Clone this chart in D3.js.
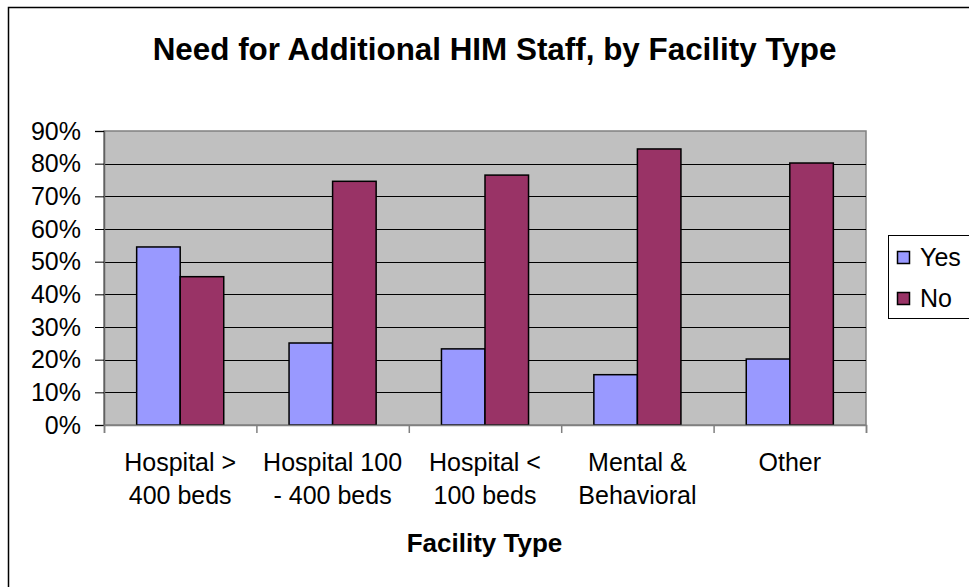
<!DOCTYPE html>
<html>
<head>
<meta charset="utf-8">
<script src="https://cdn.jsdelivr.net/npm/d3@7"></script>
<style>
  html, body { margin: 0; padding: 0; background: #fff; }
  svg { display: block; font-family: "Liberation Sans", Arial, sans-serif; }
</style>
</head>
<body>
<svg id="chart" width="969" height="587"></svg>
<script>
const categories = ["Hospital > 400 beds", "Hospital 100 - 400 beds", "Hospital < 100 beds", "Mental & Behavioral", "Other"];
const categoryLines = [["Hospital >", "400 beds"], ["Hospital 100", "- 400 beds"], ["Hospital <", "100 beds"], ["Mental &", "Behavioral"], ["Other"]];
const seriesNames = ["Yes", "No"];
const yesValues = [54.5, 25.1, 23.3, 15.4, 20.2];
const noValues = [45.4, 74.6, 76.5, 84.5, 80.2];
const yTicks = [0, 10, 20, 30, 40, 50, 60, 70, 80, 90];
const colors = { Yes: "#9999ff", No: "#993366" };

const svg = d3.select("#chart");
const plot = { left: 104, right: 866, top: 131, bottom: 425 };

// outer frame
svg.append("rect").attr("x", 8.5).attr("y", 7.5).attr("width", 1200).attr("height", 1200)
  .attr("fill", "none").attr("stroke", "#000").attr("stroke-width", 1.5);

const x = d3.scaleBand().domain(categories).range([plot.left, plot.right]).padding(0);
const x1 = d3.scaleBand().domain(seriesNames).range([0, x.bandwidth()]).paddingInner(0).paddingOuter(0.75);
const y = d3.scaleLinear().domain([0, 90]).range([plot.bottom, plot.top]);

// plot background
svg.append("rect").attr("x", plot.left).attr("y", plot.top)
  .attr("width", plot.right - plot.left).attr("height", plot.bottom - plot.top)
  .attr("fill", "#c0c0c0").attr("stroke", "#808080").attr("stroke-width", 1.5);

// gridlines
svg.append("g").selectAll("line").data(yTicks.filter(t => t > 0 && t < 90)).join("line")
  .attr("x1", plot.left).attr("x2", plot.right)
  .attr("y1", d => Math.round(y(d)) + 0.5).attr("y2", d => Math.round(y(d)) + 0.5)
  .attr("stroke", "#000").attr("stroke-width", 1);

// bars
const data = categories.map((c, i) => ({ cat: c, Yes: yesValues[i], No: noValues[i] }));
const groups = svg.append("g").selectAll("g").data(data).join("g")
  .attr("transform", d => `translate(${x(d.cat)},0)`);
groups.selectAll("rect").data(d => seriesNames.map(s => ({ s, v: d[s] }))).join("rect")
  .attr("x", d => x1(d.s)).attr("width", x1.bandwidth())
  .attr("y", d => y(d.v)).attr("height", d => y(0) - y(d.v))
  .attr("fill", d => colors[d.s]).attr("stroke", "#000").attr("stroke-width", 1.5);

// y axis
const yAxis = svg.append("g").attr("transform", `translate(${plot.left},0)`)
  .call(d3.axisLeft(y).tickValues(yTicks).tickSize(9).tickPadding(14).tickFormat(d => d + "%"));
yAxis.select(".domain").attr("stroke", "#606060").attr("stroke-width", 1.5);
yAxis.selectAll(".tick line").attr("stroke", "#000");
yAxis.selectAll(".tick text").attr("font-size", 25).attr("font-family", "Liberation Sans, Arial, sans-serif").attr("fill", "#000");

// x axis (ticks at category boundaries)
const xb = d3.scaleLinear().domain([0, categories.length]).range([plot.left, plot.right]);
const xAxis = svg.append("g").attr("transform", `translate(0,${plot.bottom})`)
  .call(d3.axisBottom(xb).tickValues(d3.range(categories.length + 1)).tickSize(8).tickFormat(""));
xAxis.select(".domain").attr("stroke", "#808080").attr("stroke-width", 1.5);
xAxis.selectAll(".tick line").attr("stroke", "#808080").attr("stroke-width", 1.5);

// category labels
const labels = svg.append("g").selectAll("text").data(categories).join("text")
  .attr("x", d => x(d) + x.bandwidth() / 2).attr("y", 471)
  .attr("text-anchor", "middle").attr("font-size", 25).attr("fill", "#000");
labels.each(function (d, i) {
  d3.select(this).selectAll("tspan").data(categoryLines[i]).join("tspan")
    .attr("x", x(d) + x.bandwidth() / 2).attr("dy", (t, j) => j === 0 ? 0 : 32.7).text(t => t);
});

// title
svg.append("text").attr("x", 494.5).attr("y", 60).attr("text-anchor", "middle")
  .attr("font-size", 31.4).attr("font-weight", "bold").attr("fill", "#000")
  .text("Need for Additional HIM Staff, by Facility Type");

// axis title
svg.append("text").attr("x", 484.5).attr("y", 552).attr("text-anchor", "middle")
  .attr("font-size", 26).attr("font-weight", "bold").attr("fill", "#000")
  .text("Facility Type");

// legend
const legend = svg.append("g");
legend.append("rect").attr("x", 888.5).attr("y", 235.5).attr("width", 200).attr("height", 83)
  .attr("fill", "#fff").attr("stroke", "#000").attr("stroke-width", 1);
const items = legend.selectAll("g").data(seriesNames).join("g")
  .attr("transform", (d, i) => `translate(0,${i * 41})`);
items.append("rect").attr("x", 897.5).attr("y", 251.5).attr("width", 12).attr("height", 12)
  .attr("fill", d => colors[d]).attr("stroke", "#000").attr("stroke-width", 1.5);
items.append("text").attr("x", 920).attr("y", 265.5).attr("font-size", 25).attr("fill", "#000").text(d => d);
</script>
</body>
</html>
